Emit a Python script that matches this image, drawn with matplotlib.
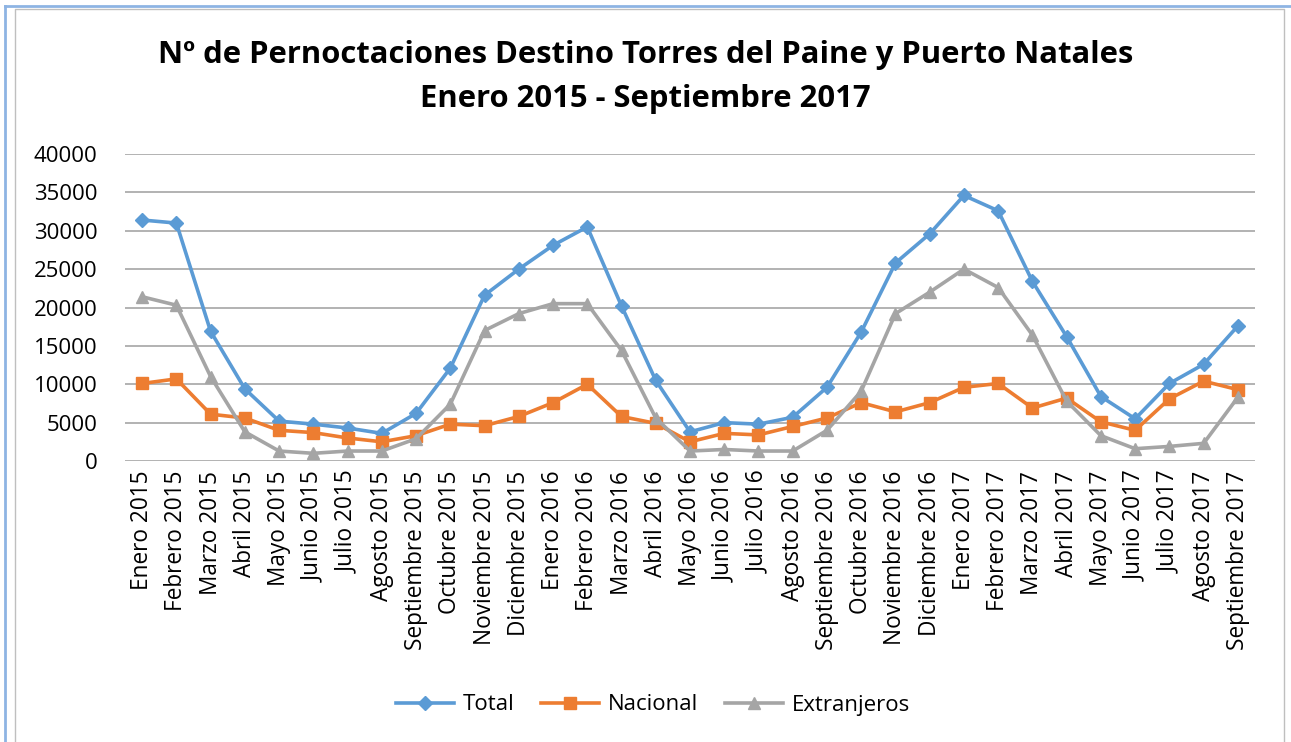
import matplotlib
matplotlib.use("Agg")
import matplotlib.pyplot as plt
from matplotlib.lines import Line2D

months = ["Enero", "Febrero", "Marzo", "Abril", "Mayo", "Junio", "Julio", "Agosto",
          "Septiembre", "Octubre", "Noviembre", "Diciembre"]
labels = [f"{m} {y}" for y in (2015, 2016, 2017) for m in months][:33]

total = [31400, 31000, 16900, 9400, 5200, 4800, 4300, 3600, 6200, 12100, 21600, 25000,
         28100, 30500, 20200, 10500, 3800, 5000, 4800, 5700, 9600, 16800, 25800, 29600,
         34600, 32600, 23400, 16200, 8400, 5500, 10100, 12600, 17600]
nacional = [10100, 10700, 6100, 5600, 4000, 3700, 3000, 2500, 3300, 4800, 4600, 5800,
            7600, 10000, 5800, 4900, 2500, 3600, 3400, 4500, 5600, 7600, 6400, 7600,
            9600, 10100, 6900, 8200, 5100, 4000, 8100, 10400, 9300]
extranjeros = [21400, 20300, 11000, 3800, 1300, 1000, 1300, 1300, 2900, 7400, 17000, 19200,
               20500, 20500, 14400, 5600, 1300, 1500, 1300, 1300, 4000, 9100, 19200, 22000,
               25000, 22600, 16400, 7800, 3300, 1600, 1900, 2300, 8300]

plt.rcParams["font.family"] = ["Open Sans", "DejaVu Sans"]

W, H = 1291, 742
fig = plt.figure(figsize=(W / 100, H / 100), dpi=100)
ax = fig.add_axes([125 / W, 1 - 461 / H, (1255 - 125) / W, (461 - 154) / H])

x = range(len(labels))
ax.plot(x, total, color="#5B9BD5", lw=2.6, marker="D", ms=7, label="Total")
ax.plot(x, nacional, color="#ED7D31", lw=2.6, marker="s", ms=8, label="Nacional")
ax.plot(x, extranjeros, color="#A5A5A5", lw=2.6, marker="^", ms=9, label="Extranjeros")

ax.set_ylim(0, 40000)
ax.set_yticks(range(0, 40001, 5000))
ax.set_xlim(-0.5, len(labels) - 0.5)
ax.set_xticks(list(x))
ax.set_xticklabels(labels, rotation=90, fontsize=16.3)
ax.tick_params(axis="y", labelsize=16, length=0, pad=20)
ax.tick_params(axis="x", length=0, pad=7)
ax.grid(axis="y", color="#A6A6A6", lw=1.2)
ax.set_axisbelow(True)
for s in ax.spines.values():
    s.set_visible(False)

fig.text(0.5, 1 - 55 / H, "Nº de Pernoctaciones Destino Torres del Paine y Puerto Natales",
         ha="center", va="center", fontsize=22.3, fontweight="bold")
fig.text(0.5, 1 - 99 / H, "Enero 2015 - Septiembre 2017",
         ha="center", va="center", fontsize=22.3, fontweight="bold")

fig.legend(loc="center", bbox_to_anchor=(653 / W, 1 - 705 / H), ncol=3,
           frameon=False, fontsize=16, handlelength=2.6, handletextpad=0.4,
           columnspacing=1.2)

# outer window edges (blue) and chart border (gray)
fig.add_artist(Line2D([5 / W, 5 / W], [0, 1 - 6 / H], transform=fig.transFigure,
                      color="#8EB4E3", lw=2))
fig.add_artist(Line2D([5 / W, 1], [1 - 6 / H, 1 - 6 / H], transform=fig.transFigure,
                      color="#8EB4E3", lw=2))
fig.add_artist(Line2D([15 / W, 15 / W, 1284 / W, 1284 / W], [0, 1 - 9 / H, 1 - 9 / H, 0],
                      transform=fig.transFigure, color="#BFBFBF", lw=1))

fig.savefig("out.png", dpi=100)
